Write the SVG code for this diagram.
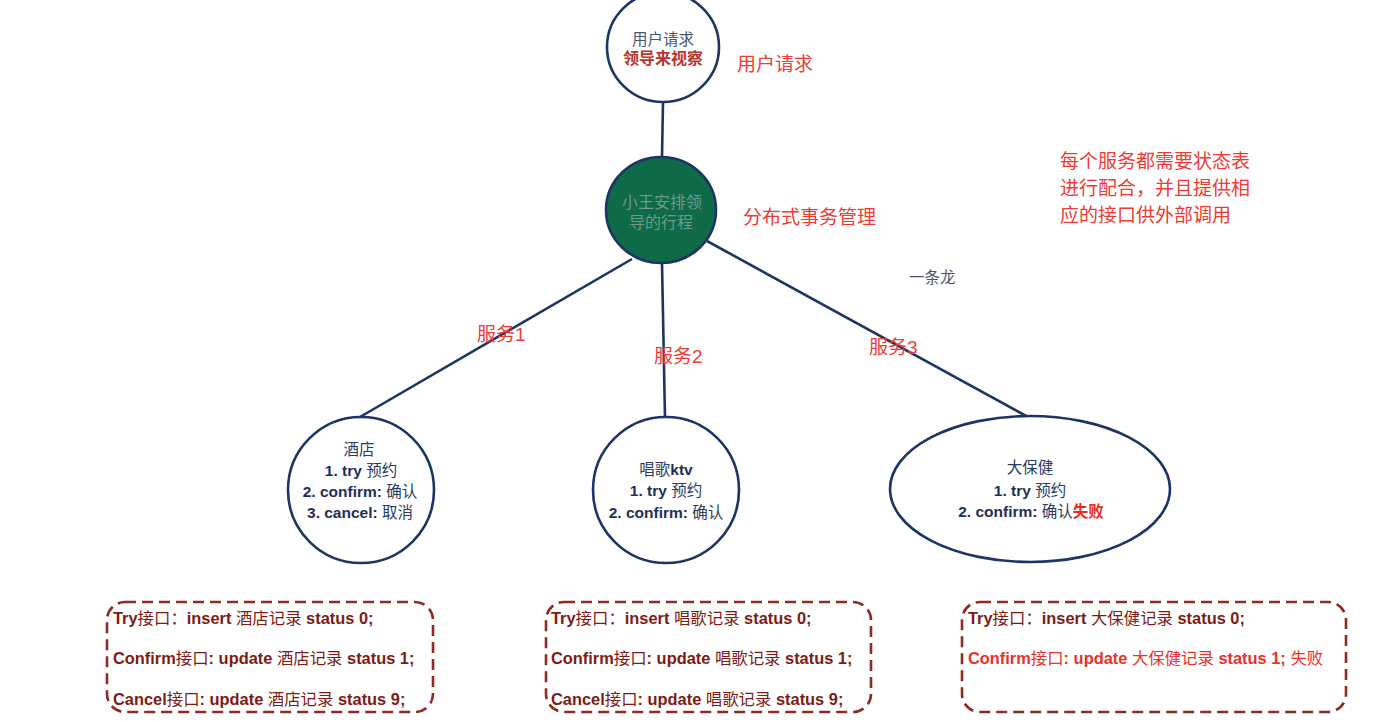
<svg xmlns="http://www.w3.org/2000/svg" width="1400" height="722" viewBox="0 0 1400 722">
<style>
text{font-family:"Liberation Sans","Noto Sans CJK SC",sans-serif}
.node{fill:#fff;stroke:#1c3565;stroke-width:2.6}
.edge{stroke:#1c3565;stroke-width:2.6;fill:none}
.red{fill:#ee3b33;font-size:19px}
.nt{fill:#2b3b63;font-size:15.5px;text-anchor:middle}
.b{font-weight:bold;fill:#1f2f5a}
.box{fill:none;stroke:#8e2b22;stroke-width:2.6;stroke-dasharray:11 6}
.bt{fill:#7c1c14;font-size:16.4px;font-weight:bold}
.n{font-weight:normal}
</style>
<rect width="1400" height="722" fill="#fff"/>
<g id="connectors">
<line class="edge" x1="663" y1="102" x2="662" y2="157"/>
<line class="edge" x1="632" y1="259" x2="360" y2="417"/>
<line class="edge" x1="662" y1="263" x2="665" y2="418"/>
<line class="edge" x1="707" y1="241" x2="1028" y2="417"/>
</g>
<g id="user-request">
<ellipse class="node" cx="663" cy="47" rx="56" ry="55"/>
<text x="663" y="45" text-anchor="middle" font-size="15.5" fill="#4a5670">用户请求</text>
<text x="663" y="64" text-anchor="middle" font-size="16" font-weight="bold" fill="#b8352a">领导来视察</text>
</g>
<g id="coordinator">
<ellipse cx="661" cy="210" rx="55" ry="53" fill="#0e6a47" stroke="#1c3565" stroke-width="2.6"/>
<text x="662" y="208" text-anchor="middle" font-size="16" fill="#6c9a8c">小王安排领</text>
<text x="661" y="228" text-anchor="middle" font-size="16" fill="#6c9a8c">导的行程</text>
</g>
<g id="labels">
<text class="red" x="737" y="71">用户请求</text>
<text class="red" x="743" y="224">分布式事务管理</text>
<text class="red" x="1060" y="168">每个服务都需要状态表</text>
<text class="red" x="1060" y="195">进行配合，并且提供相</text>
<text class="red" x="1060" y="222">应的接口供外部调用</text>
<text x="909" y="283" font-size="15.5" fill="#4a5670">一条龙</text>
<text class="red" x="477" y="341">服务1</text>
<text class="red" x="654" y="363">服务2</text>
<text class="red" x="869" y="354">服务3</text>
</g>
<g id="hotel">
<circle class="node" cx="361" cy="490" r="73"/>
<text class="nt" x="359" y="455">酒店</text>
<text class="nt" x="361" y="476"><tspan class="b">1. try</tspan> 预约</text>
<text class="nt" x="360" y="497"><tspan class="b">2. confirm:</tspan> 确认</text>
<text class="nt" x="360" y="518"><tspan class="b">3. cancel:</tspan> 取消</text>
</g>
<g id="ktv">
<circle class="node" cx="666" cy="490" r="73"/>
<text class="nt" x="666" y="475">唱歌<tspan class="b">ktv</tspan></text>
<text class="nt" x="666" y="496"><tspan class="b">1. try</tspan> 预约</text>
<text class="nt" x="666" y="518"><tspan class="b">2. confirm:</tspan> 确认</text>
</g>
<g id="massage">
<ellipse class="node" cx="1030" cy="489" rx="140" ry="73"/>
<text class="nt" x="1030" y="473">大保健</text>
<text class="nt" x="1030" y="496"><tspan class="b">1. try</tspan> 预约</text>
<text class="nt" x="1031" y="517"><tspan class="b">2. confirm:</tspan> 确认<tspan font-weight="bold" fill="#ee2a1c">失败</tspan></text>
</g>
<g id="hotel-box">
<rect class="box" x="107" y="602" width="326" height="110" rx="18"/>
<text class="bt" x="113" y="624">Try<tspan class="n">接口：</tspan>insert <tspan class="n">酒店记录</tspan> status 0;</text>
<text class="bt" x="113" y="664">Confirm<tspan class="n">接口</tspan>: update <tspan class="n">酒店记录</tspan> status 1;</text>
<text class="bt" x="113" y="705">Cancel<tspan class="n">接口</tspan>: update <tspan class="n">酒店记录</tspan> status 9;</text>
</g>
<g id="ktv-box">
<rect class="box" x="546" y="602" width="325" height="110" rx="18"/>
<text class="bt" x="551" y="624">Try<tspan class="n">接口：</tspan>insert <tspan class="n">唱歌记录</tspan> status 0;</text>
<text class="bt" x="551" y="664">Confirm<tspan class="n">接口</tspan>: update <tspan class="n">唱歌记录</tspan> status 1;</text>
<text class="bt" x="551" y="705">Cancel<tspan class="n">接口</tspan>: update <tspan class="n">唱歌记录</tspan> status 9;</text>
</g>
<g id="massage-box">
<rect class="box" x="962" y="602" width="384" height="110" rx="18"/>
<text class="bt" x="968" y="624">Try<tspan class="n">接口：</tspan>insert <tspan class="n">大保健记录</tspan> status 0;</text>
<text class="bt" x="968" y="664" style="fill:#e8322a">Confirm<tspan class="n">接口</tspan>: update <tspan class="n">大保健记录</tspan> status 1; <tspan class="n">失败</tspan></text>
</g>
</svg>
